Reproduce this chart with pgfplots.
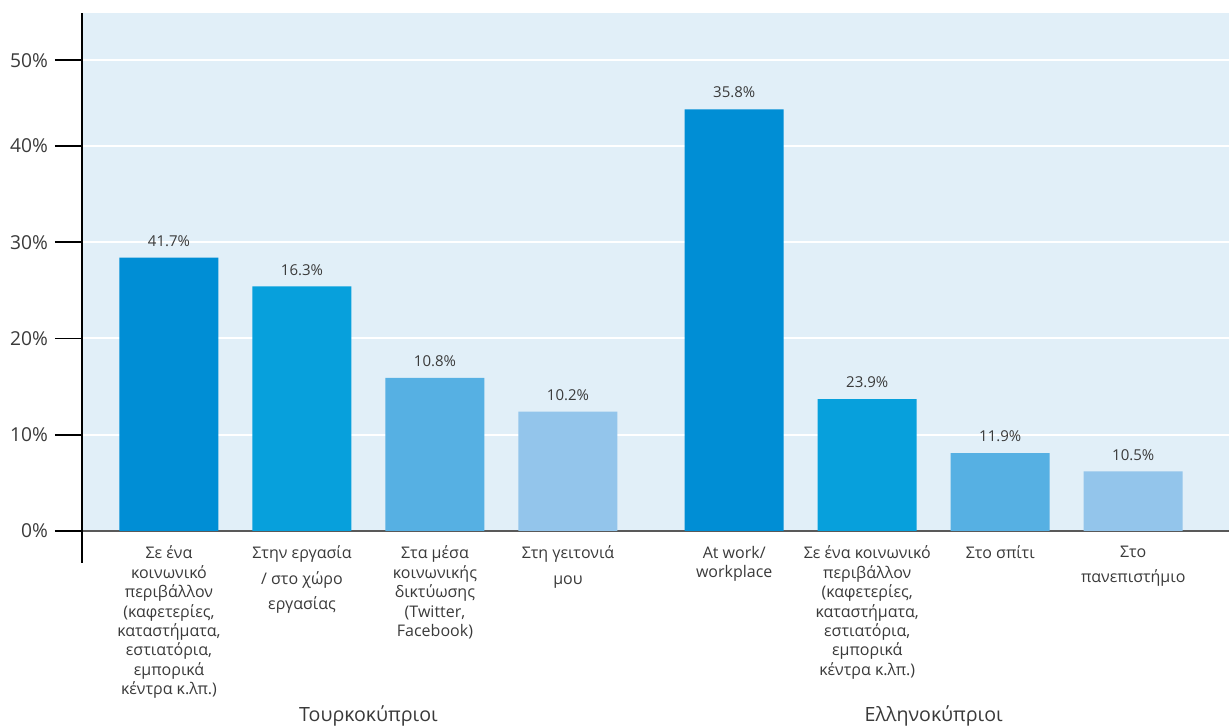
\documentclass[border=0pt]{standalone}
\usepackage{pgfplots}
\pgfplotsset{compat=1.18}
\usepackage{fontspec}
\setmainfont{Open Sans}
\definecolor{bgblue}{HTML}{E1EFF8}
\definecolor{barA}{HTML}{008ED5}
\definecolor{barB}{HTML}{07A0DC}
\definecolor{barC}{HTML}{56B0E3}
\definecolor{barD}{HTML}{93C5EB}
\definecolor{txt}{HTML}{3A3A3A}

\begin{document}
\begin{tikzpicture}
\begin{axis}[
  scale only axis, width=573.5pt, height=259pt,
  xmin=-0.654, xmax=7.97, ymin=0, ymax=53.8,
  axis x line=bottom, axis y line=left,
  axis line style={-},
  x axis line style={draw=black!65, line width=0.8pt},
  y axis line style={draw=black, line width=1pt},
  axis background/.style={fill=bgblue},
  ymajorgrids, grid style={white, line width=1pt},
  ytick={0,10,20,30,40,48.9},
  yticklabels={0\%,10\%,20\%,30\%,40\%,50\%},
  tick align=outside, ytick style={black, line width=0.8pt},
  major tick length=13.5pt,
  yticklabel style={font=\fontsize{9.6}{10}\selectfont, text=txt},
  xtick={0,1,2,3,4.25,5.25,6.25,7.25},
  xticklabels={
    {Σε ένα\\κοινωνικό\\περιβάλλον\\(καφετερίες,\\καταστήματα,\\εστιατόρια,\\εμπορικά\\κέντρα κ.λπ.)},
    {Στην εργασία\\[3pt]/ στο χώρο\\[3pt]εργασίας},
    {Στα μέσα\\κοινωνικής\\δικτύωσης\\(Twitter,\\Facebook)},
    {Στη γειτονιά\\[3pt]μου},
    {At work/\\workplace},
    {Σε ένα κοινωνικό\\περιβάλλον\\(καφετερίες,\\καταστήματα,\\εστιατόρια,\\εμπορικά\\κέντρα κ.λπ.)},
    {Στο σπίτι},
    {Στο\\[3pt]πανεπιστήμιο}},
  xtick style={draw=none},
  xticklabel style={align=center, font=\fontsize{8}{9.7}\selectfont, text=txt, anchor=north, yshift=9.5pt},
  ybar, bar width=49.5pt, bar shift=0pt,
  point meta=explicit symbolic,
  nodes near coords={\pgfplotspointmeta\%},
  every node near coord/.append style={font=\fontsize{7.5}{9}\selectfont, text=txt, yshift=2pt},
  /pgf/number format/assume math mode=true,
  clip=false,
]
\addplot[fill=barA, draw=none] coordinates {(0,28.4)[41.7] (4.25,43.8)[35.8]};
\addplot[fill=barB, draw=none] coordinates {(1,25.4)[16.3] (5.25,13.7)[23.9]};
\addplot[fill=barC, draw=none] coordinates {(2,15.9)[10.8] (6.25,8.1)[11.9]};
\addplot[fill=barD, draw=none] coordinates {(3,12.4)[10.2] (7.25,6.2)[10.5]};

\draw[black, line width=1pt] (rel axis cs:0,0) -- ([yshift=-16pt]rel axis cs:0,0);
\node[anchor=base, font=\fontsize{9.8}{12}\selectfont, text=txt] at ([yshift=-95.5pt]axis cs:1.5,0) {Τουρκοκύπριοι};
\node[anchor=base, font=\fontsize{9.8}{12}\selectfont, text=txt] at ([yshift=-95.5pt]axis cs:5.75,0) {Ελληνοκύπριοι};
\coordinate (tl) at ([xshift=-41pt,yshift=6.5pt]rel axis cs:0,1);
\coordinate (br) at ([yshift=-97.5pt]rel axis cs:1,0);
\end{axis}
\pgfresetboundingbox
\path[use as bounding box] (tl) rectangle (br);
\end{tikzpicture}
\end{document}
